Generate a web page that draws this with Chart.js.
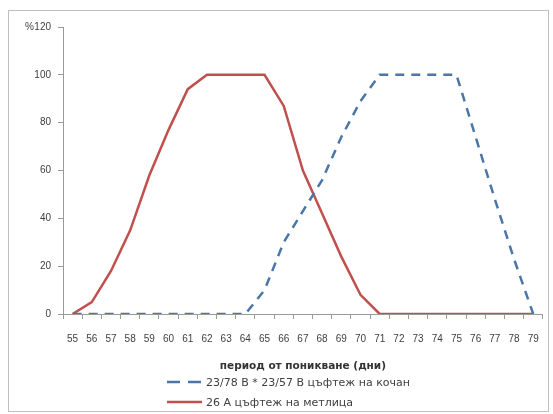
<!DOCTYPE html>
<html>
<head>
<meta charset="utf-8">
<script src="https://cdn.jsdelivr.net/npm/chart.js@4/dist/chart.umd.min.js"></script>
<style>
  html, body { margin: 0; padding: 0; background: #ffffff; }
  #wrap { position: relative; width: 553px; height: 414px; overflow: hidden; font-family: "Liberation Sans", Arial, sans-serif; }
  #frame { position: absolute; left: 8px; top: 10px; width: 541px; height: 402px; border: 1px solid #bfbfbf; box-sizing: border-box; }
  canvas { position: absolute; left: 0; top: 0; }
  #pct { position: absolute; left: 25px; top: 21px; font-size: 10px; color: #404040; }
  #legend { position: absolute; left: 167px; top: 372px; font-family: "DejaVu Sans", sans-serif; font-size: 11px; color: #404040; }
  .row { display: flex; align-items: center; height: 20px; white-space: nowrap; }
  .row svg { margin-right: 4px; }
</style>
</head>
<body>
<div id="wrap">
  <div id="frame"></div>
  <canvas id="c" width="553" height="414"></canvas>
  <div id="pct">%</div>
  <div id="legend"></div>
</div>
<script>
const categories = ["55","56","57","58","59","60","61","62","63","64","65","66","67","68","69","70","71","72","73","74","75","76","77","78","79"];
const earSeries = [0,0,0,0,0,0,0,0,0,0,10,30,43,56,74,89,100,100,100,100,100,74,48,23,0];
const tasselSeries = [0,5,18,35,58,77,94,100,100,100,100,87,60,42,24,8,0,0,0,0,0,0,0,0,0];
const seriesNames = ["23/78 B * 23/57 B цъфтеж на кочан", "26 A цъфтеж на метлица"];
const yTicks = [0,20,40,60,80,100,120];
const xTitle = "период от поникване (дни)";

const blue = "#4a76a8";
const red = "#c0504d";
const textColor = "#404040";
const axisColor = "#9a9a9a";

const chart = new Chart(document.getElementById("c"), {
  type: "line",
  data: {
    labels: categories,
    datasets: [
      { label: seriesNames[0], data: earSeries, borderColor: blue, backgroundColor: blue, borderWidth: 2.5, borderDash: [9, 7], pointRadius: 0, tension: 0, fill: false },
      { label: seriesNames[1], data: tasselSeries, borderColor: red, backgroundColor: red, borderWidth: 2.5, pointRadius: 0, tension: 0, fill: false }
    ]
  },
  options: {
    responsive: false,
    devicePixelRatio: 1,
    animation: false,
    layout: { padding: { left: 0, right: 10, top: 27, bottom: 41 } },
    plugins: { legend: { display: false }, tooltip: { enabled: false } },
    scales: {
      x: {
        type: "category",
        offset: true,
        grid: { display: true, drawOnChartArea: false, drawTicks: true, tickLength: 5, offset: true, color: axisColor },
        border: { display: true, color: axisColor, width: 1 },
        ticks: { autoSkip: false, maxRotation: 0, padding: 14, color: textColor, font: { family: "Liberation Sans", size: 10 } },
        title: { display: true, text: xTitle, color: "#333333", padding: 0, font: { family: "DejaVu Sans", size: 10.5, weight: "bold" } },
        afterFit: s => { s.height = 59; }
      },
      y: {
        min: 0, max: 120,
        afterBuildTicks: s => { s.ticks = yTicks.map(v => ({ value: v })); },
        grid: { display: true, drawOnChartArea: false, drawTicks: true, tickLength: 5, color: axisColor },
        border: { display: true, color: axisColor, width: 1 },
        ticks: { padding: 7, color: textColor, font: { family: "Liberation Sans", size: 10 } },
        afterFit: s => { s.width = 63; }
      }
    }
  }
});

// HTML legend built from the chart's datasets
const legendEl = document.getElementById("legend");
chart.data.datasets.forEach(ds => {
  const row = document.createElement("div");
  row.className = "row";
  const dash = ds.borderDash ? 'stroke-dasharray="13 8"' : '';
  row.innerHTML = '<svg width="35" height="6"><line x1="0" y1="3" x2="35" y2="3" stroke="' + ds.borderColor + '" stroke-width="2.5" ' + dash + '/></svg><span></span>';
  row.querySelector("span").textContent = ds.label;
  legendEl.appendChild(row);
});
</script>
</body>
</html>
